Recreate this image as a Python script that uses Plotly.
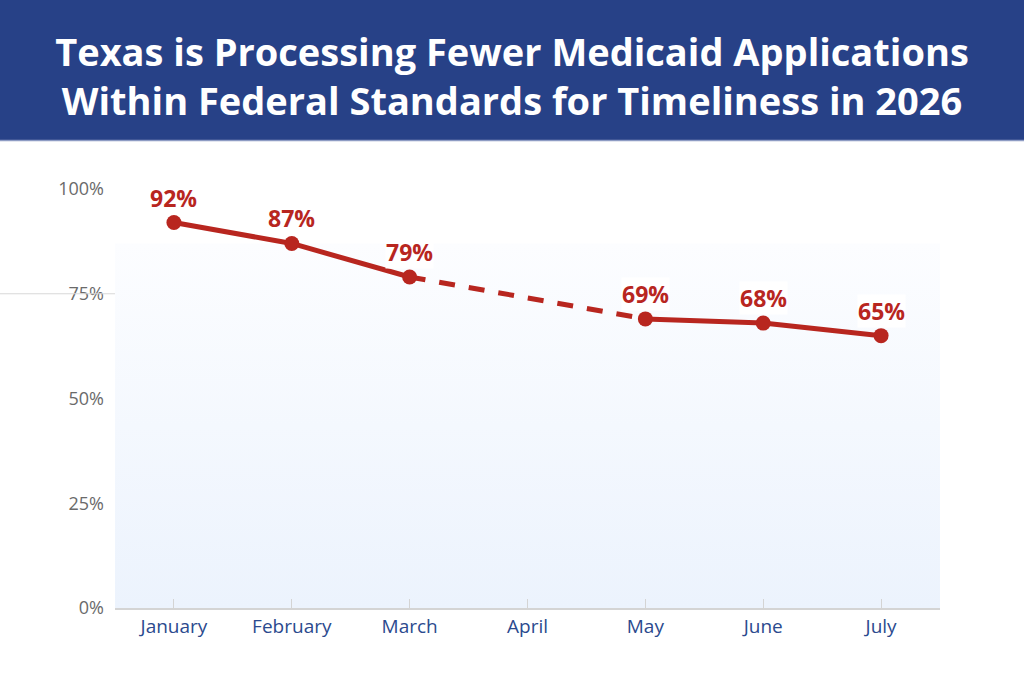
import plotly.graph_objects as go

months = ["January", "February", "March", "April", "May", "June", "July"]
pct_on_time = [92, 87, 79, None, 69, 68, 65]
y_ticks = [0, 25, 50, 75, 100]
y_tick_labels = ["0%", "25%", "50%", "75%", "100%"]

title_text = ("Texas is Processing Fewer Medicaid Applications<br>"
              "Within Federal Standards for Timeliness in 2026")

red = "#b8261f"
navy = "#274187"
W, H = 1024, 674
top, bottom = 189, 66
plot_h = H - top - bottom

def paper_y(px):
    # pixel row (from top of page) -> paper y
    return 1 + (top - px) / plot_h

xs = list(range(len(months)))
fig = go.Figure()

# gradient background of the plot area
fig.add_trace(go.Scatter(
    x=[-0.5, 6.5, 6.5, -0.5, -0.5], y=[0, 0, 87, 87, 0],
    mode="lines", line=dict(width=0), fill="toself",
    fillgradient=dict(type="vertical",
                      colorscale=[[0, "#ecf3fd"], [1, "#fcfdff"]]),
    hoverinfo="skip", showlegend=False))

# dashed bridge over the missing month
fig.add_trace(go.Scatter(
    x=xs[2:5], y=pct_on_time[2:5], mode="lines", connectgaps=True,
    line=dict(color=red, width=5, dash="16px,14px"),
    hoverinfo="skip", showlegend=False))

# solid segments + markers
for seg in (slice(0, 3), slice(4, 7)):
    fig.add_trace(go.Scatter(
        x=xs[seg], y=pct_on_time[seg], mode="lines+markers",
        line=dict(color=red, width=5),
        marker=dict(color=red, size=15),
        showlegend=False))

for x, v in zip(xs, pct_on_time):
    if v is None:
        continue
    fig.add_annotation(x=x, y=v, text="<b>%d%%</b>" % v, showarrow=False,
                       yshift=25, bgcolor="white", borderpad=0,
                       font=dict(family="Open Sans", size=23, color=red))

# title banner
fig.add_shape(type="rect", xref="paper", yref="paper", x0=-0.2, x1=1.2,
              y0=paper_y(141), y1=paper_y(-5), fillcolor=navy,
              line_width=0, layer="below")
fig.add_shape(type="line", xref="paper", yref="paper", x0=-0.2, x1=1.2,
              y0=paper_y(140.5), y1=paper_y(140.5),
              line=dict(color="#8e9cc4", width=1.5))

# stray 75% line reaching the left edge
fig.add_shape(type="line", xref="paper", yref="y", x0=-0.14, x1=0,
              y0=75, y1=75, line=dict(color="#d8d8d8", width=1))

fig.update_xaxes(
    range=[-0.5, 6.5], tickvals=xs, ticktext=months,
    ticks="inside", ticklen=9, tickcolor="#d4d4d4", tickwidth=1,
    showline=True, linecolor="#d4d4d4", linewidth=2, showgrid=False,
    tickfont=dict(family="Open Sans", size=19, color="#2b4a8e"),
    zeroline=False)
fig.update_yaxes(
    range=[0, 100], tickvals=y_ticks, ticktext=y_tick_labels,
    showgrid=True, gridcolor="#d8d8d8", gridwidth=1, zeroline=False,
    tickfont=dict(family="Open Sans", size=18, color="#6a6a6a"),
    ticks="", ticklabelstandoff=10)

fig.update_layout(
    width=W, height=H,
    margin=dict(l=115, r=84, t=top, b=bottom),
    paper_bgcolor="white", plot_bgcolor="rgba(0,0,0,0)",
    showlegend=False,
    title=dict(text="<b>" + title_text + "</b>", x=0.5, xanchor="center",
               xref="container", yref="container", y=1 - 66 / H,
               yanchor="middle",
               font=dict(family="Open Sans", size=38, weight=800,
                         color="white")))

fig.write_html("out.html", config={"displayModeBar": False},
               post_script="document.body.style.margin='0';")
